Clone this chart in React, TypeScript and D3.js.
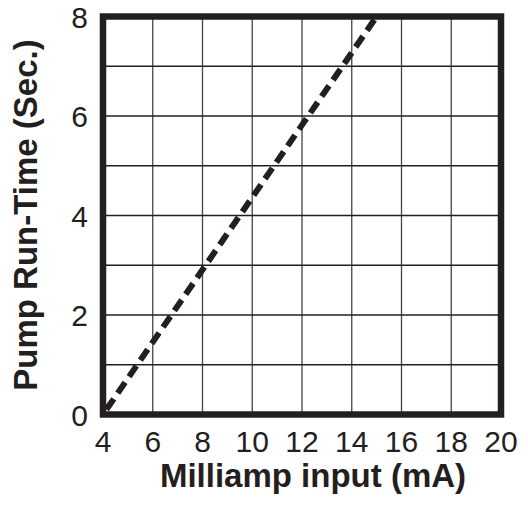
import React from "react";
import * as d3 from "d3";

const xTicks = [4, 6, 8, 10, 12, 14, 16, 18, 20];
const yTicks = [0, 2, 4, 6, 8];
const xGrid = [6, 8, 10, 12, 14, 16, 18];
const yGrid = [1, 2, 3, 4, 5, 6, 7];
const lineMilliamp = [4, 15];
const lineRunTime = [0, 8];
const xTitle = "Milliamp input (mA)";
const yTitle = "Pump Run-Time (Sec.)";

const W = 528;
const H = 513;
const left = 103;
const right = 501;
const top = 16.5;
const bottom = 414.5;
const ink = "#231f20";

export default function App() {
  const x = d3.scaleLinear().domain([4, 20]).range([left, right]);
  const y = d3.scaleLinear().domain([0, 8]).range([bottom, top]);
  const pts: [number, number][] = lineMilliamp.map((m, i) => [m, lineRunTime[i]]);
  const line = d3
    .line<[number, number]>()
    .x((d) => x(d[0]))
    .y((d) => y(d[1]));
  const font = "'Liberation Sans', Arial, Helvetica, sans-serif";
  return (
    <svg
      width={W}
      height={H}
      style={{ position: "absolute", left: 0, top: 0, background: "#fff" }}
    >
      <defs>
        <clipPath id="plot">
          <rect x={left} y={top} width={right - left} height={bottom - top} />
        </clipPath>
      </defs>
      {xGrid.map((v) => (
        <line
          key={"gx" + v}
          x1={x(v)}
          x2={x(v)}
          y1={top}
          y2={bottom}
          stroke="#444"
          strokeWidth={1.3}
        />
      ))}
      {yGrid.map((v) => (
        <line
          key={"gy" + v}
          x1={left}
          x2={right}
          y1={y(v)}
          y2={y(v)}
          stroke={ink}
          strokeWidth={1.3}
        />
      ))}
      <path
        d={line(pts) || ""}
        fill="none"
        stroke={ink}
        strokeWidth={6}
        strokeDasharray="13,7"
        strokeDashoffset={14}
        clipPath="url(#plot)"
      />
      <rect
        x={left}
        y={top}
        width={right - left}
        height={bottom - top}
        fill="none"
        stroke={ink}
        strokeWidth={6.5}
      />
      {xTicks.map((v) => (
        <text
          key={"tx" + v}
          x={x(v)}
          y={452}
          textAnchor="middle"
          fontFamily={font}
          fontSize={30}
          fill={ink}
        >
          {v}
        </text>
      ))}
      {yTicks.map((v) => (
        <text
          key={"ty" + v}
          x={88}
          y={y(v) + 11}
          textAnchor="end"
          fontFamily={font}
          fontSize={30}
          fill={ink}
        >
          {v}
        </text>
      ))}
      <text
        x={313}
        y={487}
        textAnchor="middle"
        fontFamily={font}
        fontWeight="bold"
        fontSize={33}
        fill={ink}
      >
        {xTitle}
      </text>
      <text
        transform={`translate(37,${215}) rotate(-90)`}
        textAnchor="middle"
        fontFamily={font}
        fontWeight="bold"
        fontSize={33}
        fill={ink}
      >
        {yTitle}
      </text>
    </svg>
  );
}
